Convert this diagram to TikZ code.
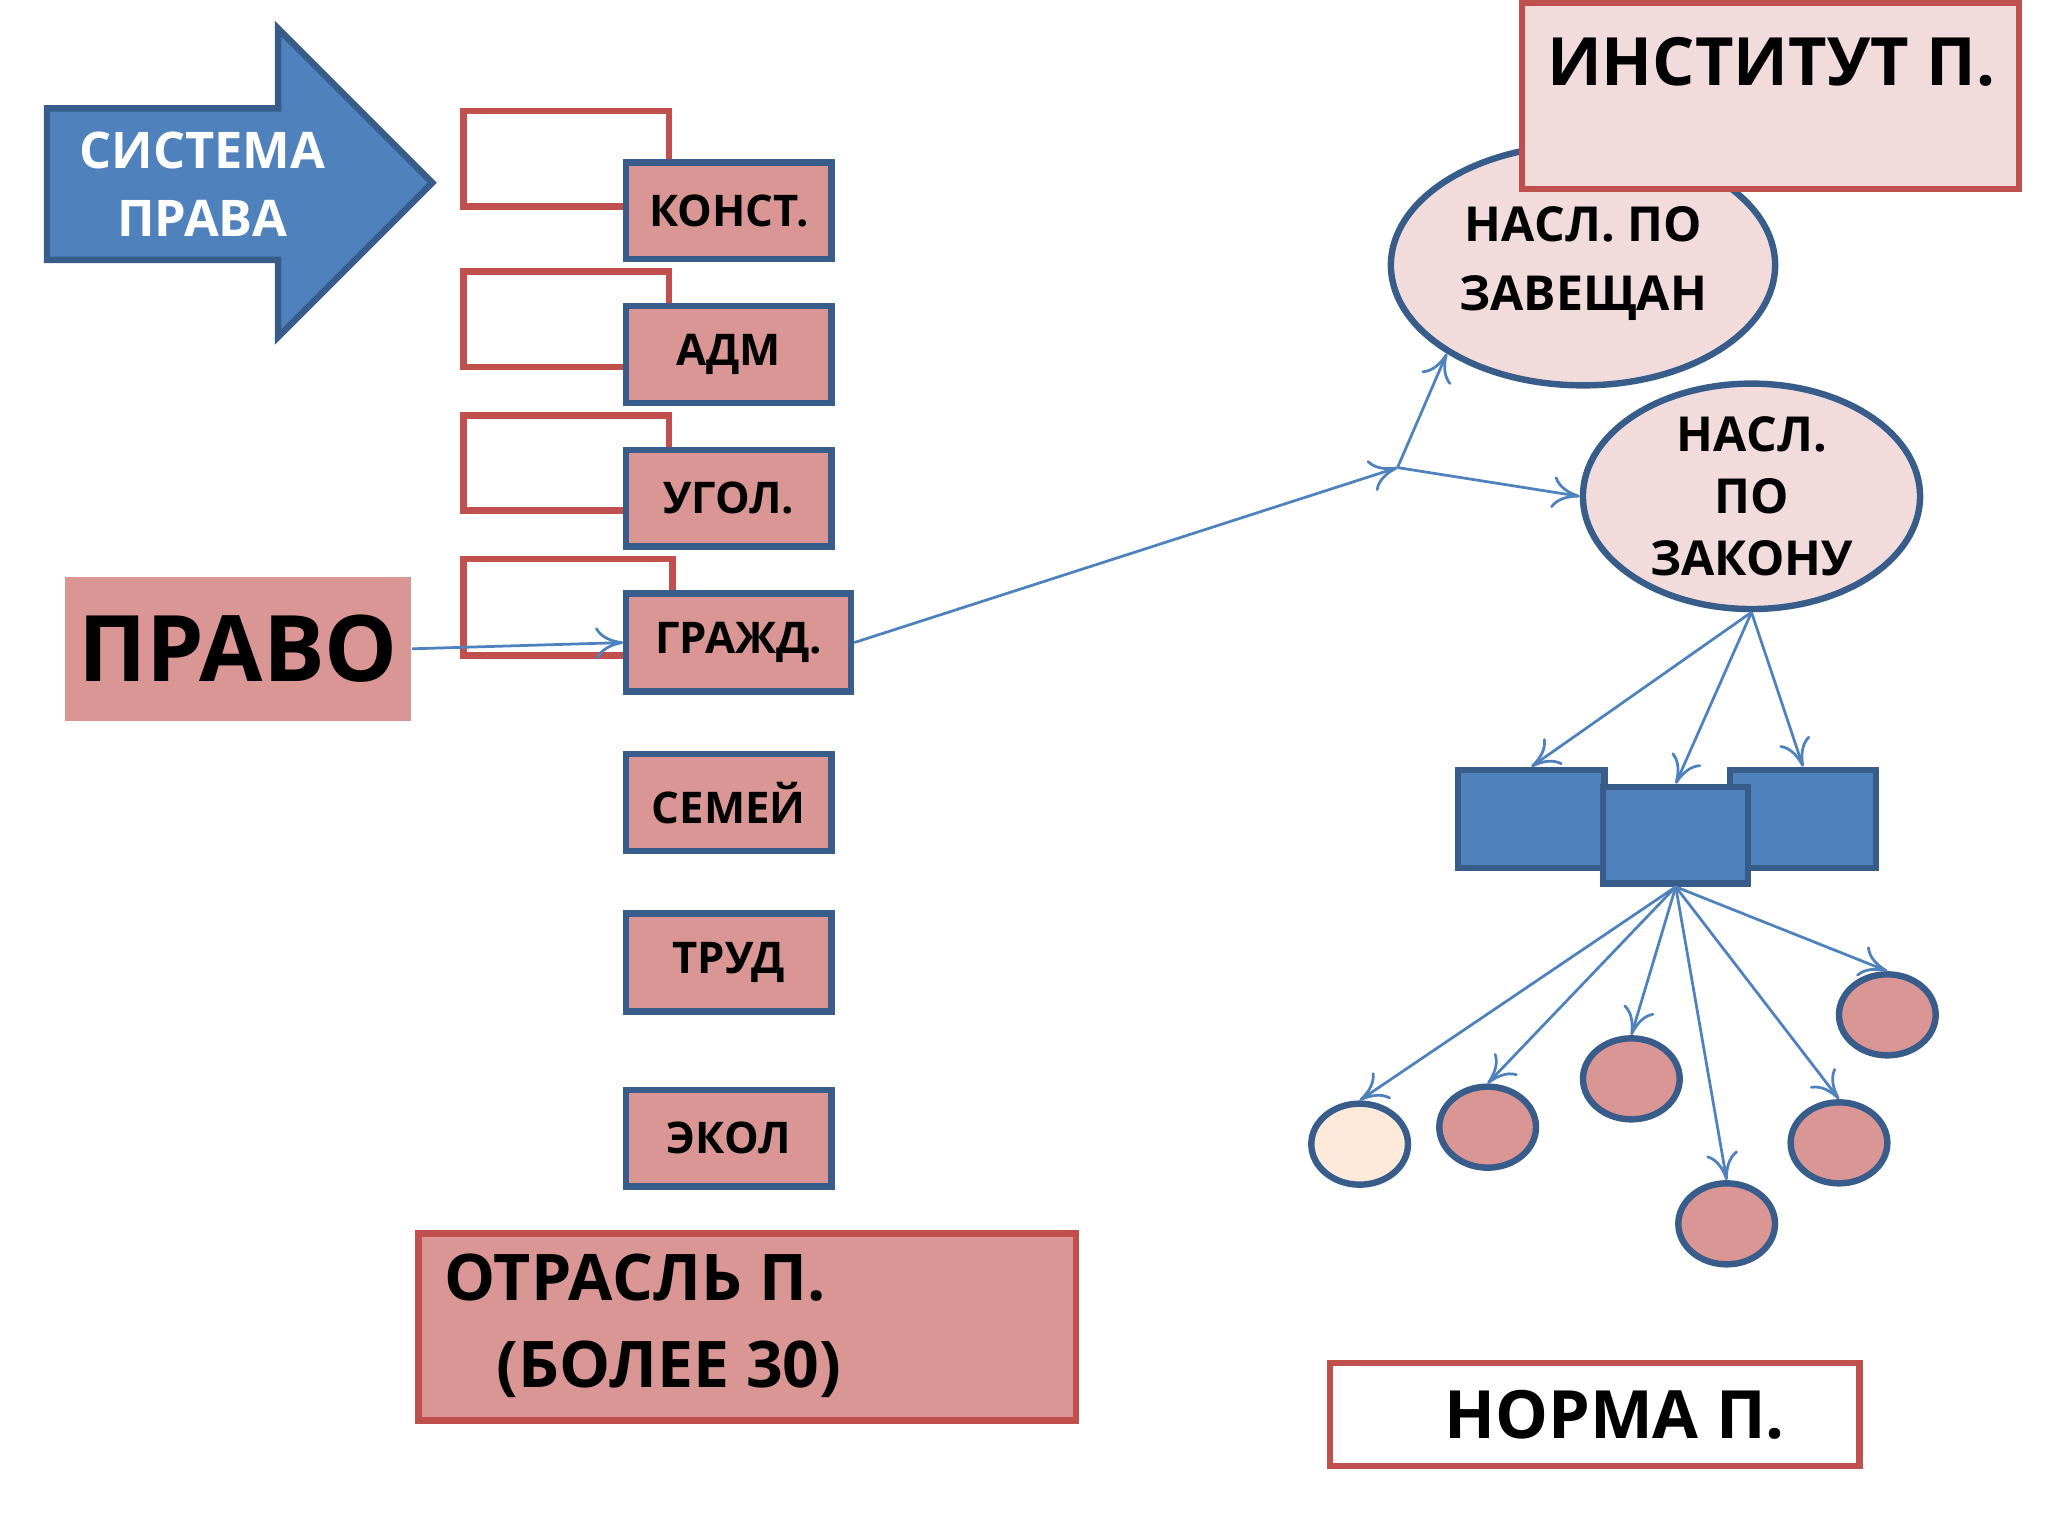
\documentclass[tikz,border=0pt]{standalone}
\usepackage{fontspec}
\setmainfont{Open Sans}
\usetikzlibrary{arrows.meta,shapes.geometric}
\definecolor{pinkfill}{HTML}{D99694}
\definecolor{palefill}{HTML}{F2DCDB}
\definecolor{bluefill}{HTML}{4F81BD}
\definecolor{blueline}{HTML}{385D8A}
\definecolor{redline}{HTML}{C0504D}
\definecolor{creamfill}{HTML}{FDEADA}
\tikzset{
  branch/.style={draw=blueline, line width=1.4pt, fill=pinkfill, anchor=north west, inner sep=0pt, font=\bfseries\fontsize{9.5}{11}\selectfont},
  frame/.style={draw=redline, line width=1.4pt},
  bluebox/.style={draw=blueline, line width=1.4pt, fill=bluefill},
  oval/.style={ellipse, draw=blueline, line width=1.4pt, inner sep=0pt},
  link/.style={draw=bluefill, line width=0.6pt, -{To[length=6pt,width=7pt]}},
}
\begin{document}
\begin{tikzpicture}[x=0.01cm, y=-0.01cm]
    \useasboundingbox (0,0) rectangle (1568,1176);
    % big arrow
    \draw[bluebox, fill=bluefill] (36,83) -- (213,83) -- (213,22) -- (331,140) -- (213,258) -- (213,199) -- (36,199) -- cycle;
    \node[text=white, font=\bfseries\fontsize{11}{15}\selectfont, align=center] (sys) at (155,141) {СИСТЕМА\\ПРАВА};
    % empty frames
    \draw[frame] (512,122) -- (512,85) -- (355,85) -- (355,158) -- (477,158);
    \draw[frame] (512,232) -- (512,208) -- (355,208) -- (355,281) -- (477,281);
    \draw[frame] (512,342) -- (512,318) -- (355,318) -- (355,391) -- (477,391);
    \draw[frame] (515,452) -- (515,428) -- (355,428) -- (355,502) -- (477,502);
    % branches
    \node[branch, minimum width=1.57cm, minimum height=0.74cm] (konst) at (477,122) {КОНСТ.};
    \node[branch, minimum width=1.57cm, minimum height=0.74cm] (adm) at (477,232) {АДМ};
    \node[branch, minimum width=1.57cm, minimum height=0.74cm] (ugol) at (477,342) {УГОЛ.};
    \node[branch, minimum width=1.72cm, minimum height=0.75cm] (grazhd) at (477,452) {ГРАЖД.};
    \node[branch, minimum width=1.57cm, minimum height=0.74cm] (semei) at (477,575) {СЕМЕЙ};
    \node[branch, minimum width=1.57cm, minimum height=0.75cm] (trud) at (477,697) {ТРУД};
    \node[branch, minimum width=1.57cm, minimum height=0.74cm] (ekol) at (477,832) {ЭКОЛ};
    \node[fill=pinkfill, anchor=north west, inner sep=0pt, minimum width=2.65cm, minimum height=1.1cm, font=\bfseries\fontsize{20}{24}\selectfont] (pravo) at (49,441) {ПРАВО};
    \node[frame, fill=pinkfill, anchor=north west, minimum width=5.03cm, minimum height=1.43cm] (otrasl) at (318,942) {};
    \node[anchor=west, align=left, font=\bfseries\fontsize{14}{19}\selectfont] (otrasltxt) at (328,1015) {ОТРАСЛЬ П.\\\hspace{0.4cm}(БОЛЕЕ 30)};
    % institute
    \node[oval, fill=palefill, minimum width=2.94cm, minimum height=1.84cm, align=center, font=\bfseries\fontsize{10.5}{15}\selectfont] (zaveshch) at (1212,203) {\\[-8pt]НАСЛ. ПО\\ЗАВЕЩАН};
    \node[frame, fill=palefill, anchor=north west, minimum width=3.8cm, minimum height=1.42cm] (inst) at (1163,0) {};
    \node[anchor=north west, font=\bfseries\fontsize{14.5}{18}\selectfont] (insttxt) at (1172,16) {ИНСТИТУТ П.};
    \node[oval, fill=palefill, minimum width=2.58cm, minimum height=1.72cm, align=center, font=\bfseries\fontsize{10.5}{13.5}\selectfont] (zakon) at (1341,380) {НАСЛ.\\ПО\\ЗАКОНУ};
    % blue boxes
    \node[bluebox, anchor=north west, minimum width=1.12cm, minimum height=0.75cm] (bl) at (1114,587) {};
    \node[bluebox, anchor=north west, minimum width=1.12cm, minimum height=0.75cm] (br) at (1322,587) {};
    \node[bluebox, anchor=north west, minimum width=1.11cm, minimum height=0.74cm] (bm) at (1225,600) {};
    % norms
    \node[oval, fill=creamfill, minimum width=0.74cm, minimum height=0.62cm] (n1) at (1041,876) {};
    \node[oval, fill=pinkfill, minimum width=0.74cm, minimum height=0.62cm] (n2) at (1139,863) {};
    \node[oval, fill=pinkfill, minimum width=0.74cm, minimum height=0.62cm] (n3) at (1249,826) {};
    \node[oval, fill=pinkfill, minimum width=0.74cm, minimum height=0.62cm] (n4) at (1322,937) {};
    \node[oval, fill=pinkfill, minimum width=0.74cm, minimum height=0.62cm] (n5) at (1408,875) {};
    \node[oval, fill=pinkfill, minimum width=0.74cm, minimum height=0.62cm] (n6) at (1445,777) {};
    \node[frame, fill=white, anchor=north west, inner sep=0pt, minimum width=4.05cm, minimum height=0.79cm, font=\bfseries\fontsize{14.5}{18}\selectfont] (norma) at (1016,1041) {\hspace{0.3cm}НОРМА П.};
    % connectors
    \coordinate (fork) at (1070,358);
    \draw[link] (pravo.east) -- (grazhd.west);
    \draw[link] (grazhd.east) -- (fork);
    \draw[link] (fork) -- (zaveshch.-147);
    \draw[link] (fork) -- (zakon.west);
    \draw[link] (zakon.south) -- (bl.north);
    \draw[link] (zakon.south) -- (bm.north);
    \draw[link] (zakon.south) -- (br.north);
    \foreach \n in {n1,n2,n3,n4,n5,n6}
        \draw[link] (bm.south) -- (\n.north);
\end{tikzpicture}
\end{document}
